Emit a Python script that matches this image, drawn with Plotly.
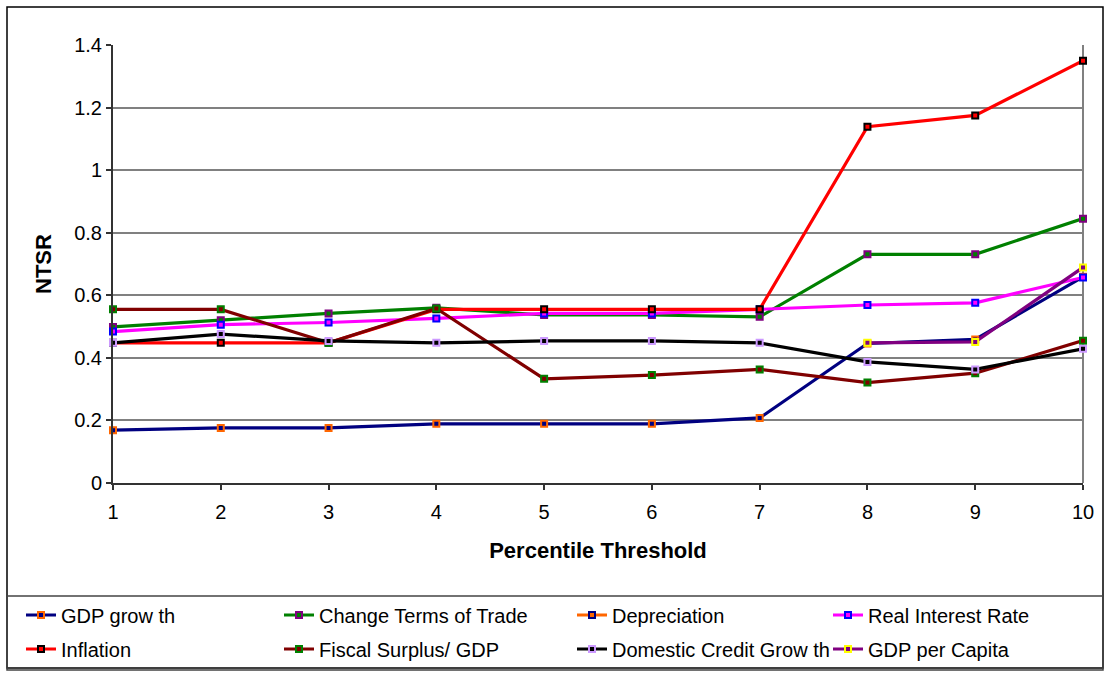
import plotly.graph_objects as go

# Percentile thresholds on the x axis
thresholds = [1, 2, 3, 4, 5, 6, 7, 8, 9, 10]

# NTSR by indicator
gdp_growth = [0.169, 0.176, 0.176, 0.189, 0.189, 0.189, 0.208, 0.446, 0.459, 0.659]
terms_of_trade = [0.499, 0.520, 0.542, 0.560, 0.537, 0.537, 0.531, 0.731, 0.731, 0.845]
depreciation = [None, None, None, None, None, None, None, None, None, None]
real_interest = [0.484, 0.506, 0.513, 0.526, 0.542, 0.542, 0.555, 0.569, 0.576, 0.657]
inflation = [0.448, 0.448, 0.448, 0.555, 0.555, 0.555, 0.555, 1.139, 1.175, 1.350]
fiscal_surplus = [0.555, 0.555, 0.448, 0.558, 0.333, 0.345, 0.363, 0.321, 0.351, 0.455]
credit_growth = [0.448, 0.476, 0.454, 0.448, 0.454, 0.454, 0.448, 0.387, 0.363, 0.429]
gdp_per_capita = [None, None, None, None, None, None, None, 0.448, 0.451, 0.689]

# name, values, line colour, marker border colour
series = [
    ("GDP grow th", gdp_growth, "#000080", "#FF6600"),
    ("Change Terms of Trade", terms_of_trade, "#008000", "#800080"),
    ("Depreciation", depreciation, "#FF6600", "#000080"),
    ("Real Interest Rate", real_interest, "#FF00FF", "#0000FF"),
    ("Inflation", inflation, "#FF0000", "#000000"),
    ("Fiscal Surplus/ GDP", fiscal_surplus, "#800000", "#008000"),
    ("Domestic Credit Grow th", credit_growth, "#000000", "#CC99FF"),
    ("GDP per Capita", gdp_per_capita, "#800080", "#FFFF00"),
]

W, H = 1105, 673
PL, PR, PT, PB = 113, 1083, 45, 483
FONT = "Liberation Sans, Arial, sans-serif"


def fx(p):
    return (p - PL) / (PR - PL)


def fy(p):
    return (PB - p) / (PB - PT)


fig = go.Figure()
legend_names = ["legend"] + [f"legend{i}" for i in range(2, 9)]
for i, (name, vals, lc, mc) in enumerate(series):
    fig.add_trace(go.Scatter(
        x=thresholds, y=vals, name=name, mode="lines+markers",
        line=dict(color=lc, width=3.2),
        marker=dict(symbol="square", size=6, color=lc, line=dict(color=mc, width=2)),
        cliponaxis=False, legend=legend_names[i], showlegend=True,
    ))

# legend entries laid out in a 4 x 2 grid
col_text_x = [61, 319, 612, 868]
row_y = [615, 649]
legends = {}
for i, ln in enumerate(legend_names):
    col, row = i % 4, i // 4
    legends[ln] = dict(
        x=fx(col_text_x[col] - 40), y=fy(row_y[row]),
        xanchor="left", yanchor="middle",
        bgcolor="rgba(0,0,0,0)", borderwidth=0,
        font=dict(family=FONT, size=20, color="#000"),
    )

shapes = [
    # chart border
    dict(type="rect", xref="paper", yref="paper", x0=fx(7), x1=fx(1103), y0=fy(668), y1=fy(7),
         line=dict(color="#000", width=1.5), layer="below"),
    # legend box
    dict(type="rect", xref="paper", yref="paper", x0=fx(7), x1=fx(1103), y0=fy(670), y1=fy(596),
         line=dict(color="#444", width=1.5), layer="below"),
    # plot-area right edge
    dict(type="line", xref="paper", yref="paper", x0=1, x1=1, y0=0, y1=1,
         line=dict(color="#808080", width=2), layer="below"),
]

fig.update_layout(
    width=W, height=H,
    margin=dict(l=PL, r=W - PR, t=PT, b=H - PB, autoexpand=False),
    paper_bgcolor="white", plot_bgcolor="white",
    font=dict(family=FONT, size=20, color="#000"),
    showlegend=True,
    shapes=shapes,
    **legends,
)
fig.update_xaxes(
    range=[1, 10], tickvals=thresholds, showgrid=False, zeroline=False,
    showline=True, linecolor="#333", linewidth=2,
    ticks="outside", ticklen=5, tickcolor="#333", tickwidth=1.5,
    ticklabelstandoff=5,
    tickfont=dict(family=FONT, size=20),
    title=dict(text="<b>Percentile Threshold</b>", font=dict(family=FONT, size=22), standoff=21),
)
fig.update_yaxes(
    range=[0, 1.4], dtick=0.2, showgrid=True, gridcolor="#808080", gridwidth=2,
    zeroline=False, showline=True, linecolor="#333", linewidth=2,
    ticks="outside", ticklen=5, tickcolor="#333", tickwidth=1.5,
    tickfont=dict(family=FONT, size=20),
    title=dict(text="<b>NTSR</b>", font=dict(family=FONT, size=22), standoff=16),
)

fig.write_html("out.html")
